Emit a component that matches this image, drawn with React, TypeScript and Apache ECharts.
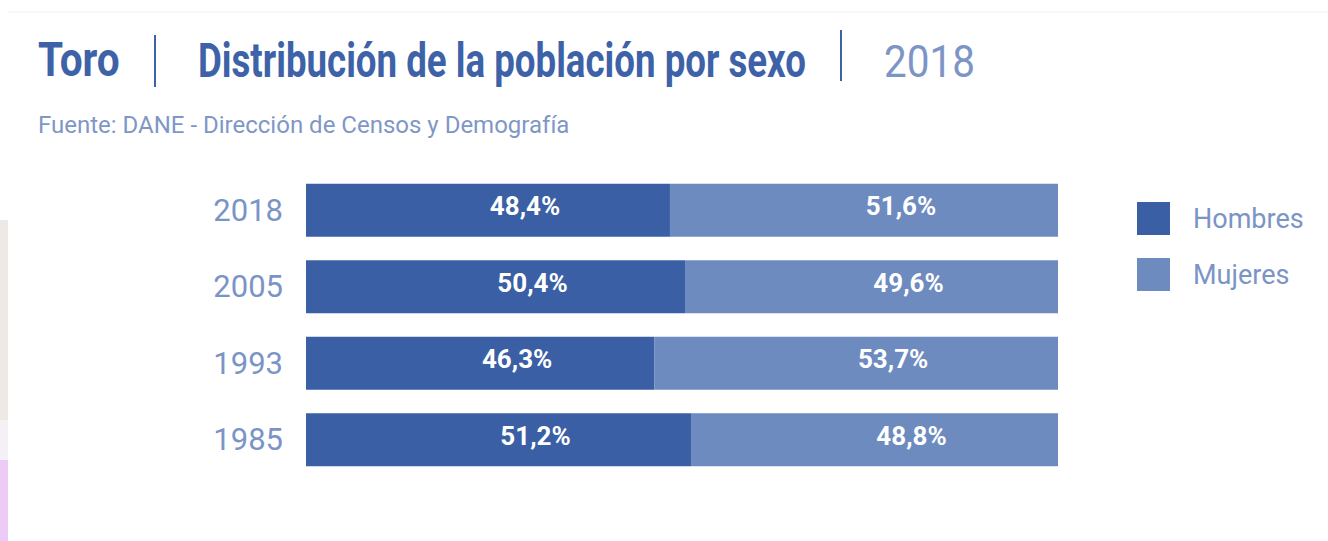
import React, { useEffect, useRef } from "react";
import * as echarts from "echarts";

const categories = ["2018", "2005", "1993", "1985"];
const hombres = [48.4, 50.4, 46.3, 51.2];
const mujeres = [51.6, 49.6, 53.7, 48.8];
const seriesNames = ["Hombres", "Mujeres"];

const DARK = "#3a5fa5";
const LIGHT = "#6e8bc0";
const TEXT = "#7b94c6";
const TITLE = "#3d62a8";

const fmt = (v: number) => v.toFixed(1).replace(".", ",") + "%";

export default function App() {
  const ref = useRef<HTMLDivElement>(null);
  useEffect(() => {
    if (!ref.current) return;
    const chart = echarts.init(ref.current, undefined, { renderer: "svg" });
    const labelStyle = {
      show: true,
      position: "inside" as const,
      offset: [37, -4],
      color: "#ffffff",
      fontFamily: "Roboto, sans-serif",
      fontWeight: "bold" as const,
      fontSize: 26,
      formatter: (p: any) => fmt(p.value),
    };
    chart.setOption({
      animation: false,
      backgroundColor: "#ffffff",
      grid: { left: 306, right: 270, top: 172, bottom: 63, containLabel: false },
      xAxis: { type: "value", min: 0, max: 100, show: false },
      yAxis: {
        type: "category",
        data: categories,
        inverse: true,
        axisLine: { show: false },
        axisTick: { show: false },
        splitLine: { show: false },
        axisLabel: {
          color: TEXT,
          fontFamily: "Roboto, sans-serif",
          fontSize: 31,
          margin: 23,
        },
      },
      legend: {
        orient: "vertical",
        left: 1137,
        top: 202,
        padding: 0,
        itemWidth: 33,
        itemHeight: 33,
        itemGap: 23,
        icon: "rect",
        data: seriesNames,
        textStyle: {
          color: TEXT,
          fontFamily: "Roboto, sans-serif",
          fontSize: 27,
          padding: [0, 0, 0, 18],
        },
      },
      series: [
        {
          name: seriesNames[0],
          type: "bar",
          stack: "total",
          data: hombres,
          barCategoryGap: "31%",
          itemStyle: { color: DARK },
          label: labelStyle,
        },
        {
          name: seriesNames[1],
          type: "bar",
          stack: "total",
          data: mujeres,
          barCategoryGap: "31%",
          itemStyle: { color: LIGHT },
          label: labelStyle,
        },
      ],
      graphic: [
        { type: "rect", shape: { x: 0, y: 220, width: 8, height: 200 }, style: { fill: "#efe9e6" } },
        { type: "rect", shape: { x: 0, y: 420, width: 8, height: 40 }, style: { fill: "#f4f0f6" } },
        { type: "rect", shape: { x: 0, y: 460, width: 8, height: 81 }, style: { fill: "#ecccf7" } },
        { type: "line", shape: { x1: 8, y1: 12, x2: 1328, y2: 12 }, style: { stroke: "#f1f1f1", lineWidth: 1 } },
        {
          type: "text",
          x: 38,
          y: 60,
          scaleX: 0.845,
          style: {
            text: "Toro",
            fill: TITLE,
            verticalAlign: "middle",
            font: "bold 48px Roboto, sans-serif",
          },
        },
        { type: "line", shape: { x1: 155, y1: 35, x2: 155, y2: 87 }, style: { stroke: TITLE, lineWidth: 2 } },
        {
          type: "text",
          x: 198,
          y: 60,
          scaleX: 0.764,
          style: {
            text: "Distribución de la población por sexo",
            fill: TITLE,
            verticalAlign: "middle",
            font: "bold 48px Roboto, sans-serif",
          },
        },
        { type: "line", shape: { x1: 841, y1: 30, x2: 841, y2: 81 }, style: { stroke: TITLE, lineWidth: 2 } },
        {
          type: "text",
          x: 884,
          y: 62,
          scaleX: 0.92,
          style: {
            text: "2018",
            fill: "#7d95c6",
            verticalAlign: "middle",
            font: "44px Roboto, sans-serif",
          },
        },
        {
          type: "text",
          x: 38,
          y: 125,
          style: {
            text: "Fuente: DANE - Dirección de Censos y Demografía",
            fill: "#7f97c7",
            verticalAlign: "middle",
            font: "24px Roboto, sans-serif",
          },
        },
      ],
    });
    return () => chart.dispose();
  }, []);
  return (
    <div
      ref={ref}
      style={{ position: "absolute", left: 0, top: 0, width: 1328, height: 541 }}
    />
  );
}
